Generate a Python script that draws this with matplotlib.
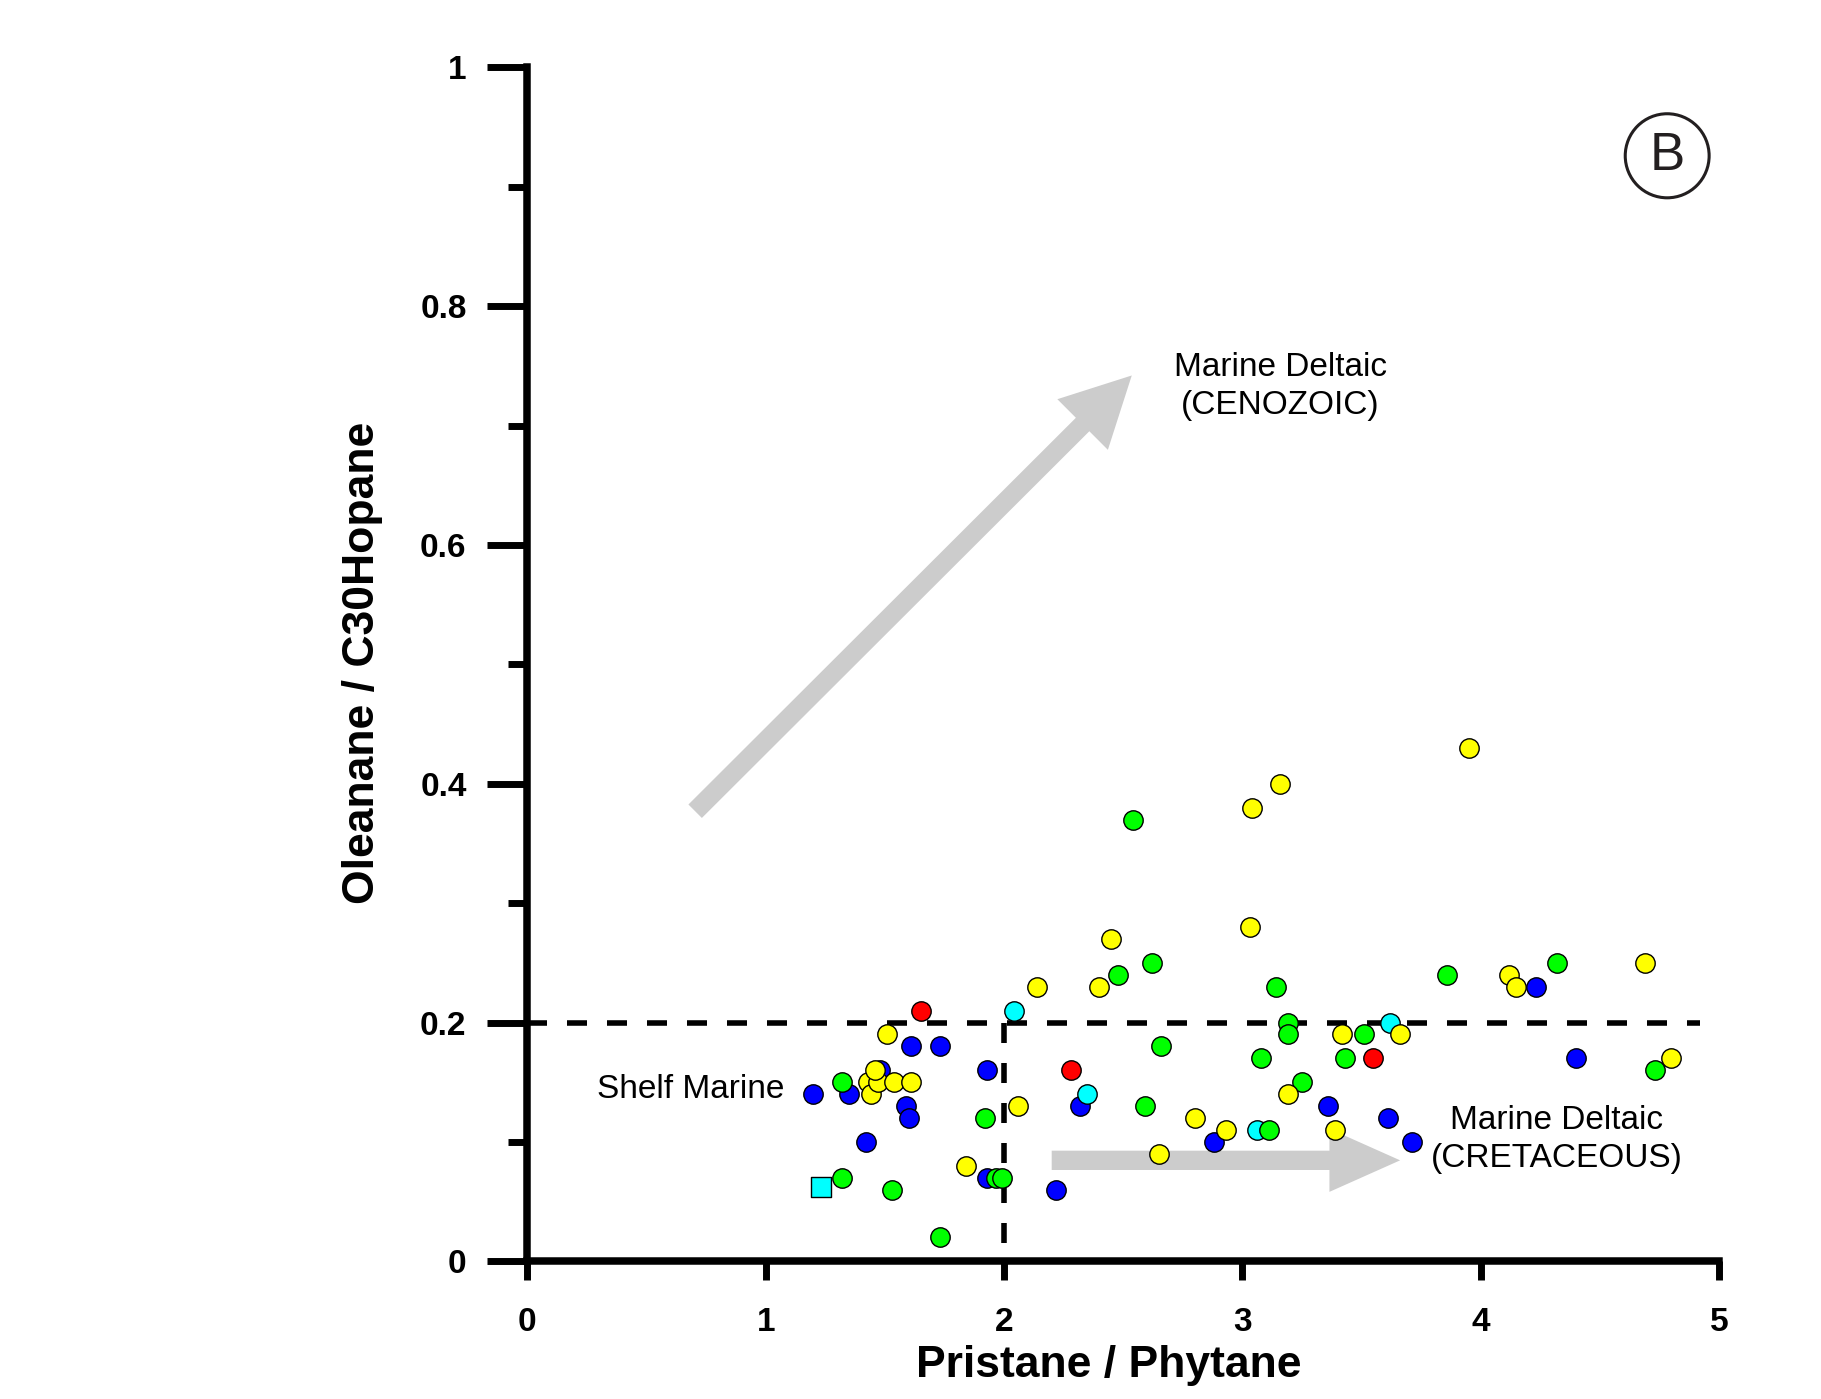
import matplotlib
matplotlib.use("Agg")
import matplotlib.pyplot as plt
from matplotlib.patches import Circle

plt.rcParams['font.family'] = ['Liberation Sans', 'DejaVu Sans']

# data (Pr/Ph vs Oleanane/C30 hopane)
blue_x = [1.20, 1.35, 1.48, 1.61, 1.73, 1.59, 1.60, 1.42, 1.93, 1.93, 2.22, 2.32,
          2.88, 3.36, 3.61, 3.71, 4.23, 4.40]
blue_y = [0.14, 0.14, 0.16, 0.18, 0.18, 0.13, 0.12, 0.10, 0.16, 0.07, 0.06, 0.13,
          0.10, 0.13, 0.12, 0.10, 0.23, 0.17]

cyan_x = [2.04, 2.35, 3.06, 3.62]
cyan_y = [0.21, 0.14, 0.11, 0.20]

cyan_sq_x = [1.23]
cyan_sq_y = [0.062]

green_x = [1.32, 1.32, 1.53, 1.73, 1.92, 1.965, 1.99, 2.48, 2.54, 2.62, 2.66, 2.59,
           3.11, 3.08, 3.14, 3.19, 3.19, 3.25, 3.43, 3.51, 3.86, 4.32, 4.73]
green_y = [0.15, 0.07, 0.06, 0.02, 0.12, 0.07, 0.07, 0.24, 0.37, 0.25, 0.18, 0.13,
           0.11, 0.17, 0.23, 0.20, 0.19, 0.15, 0.17, 0.19, 0.24, 0.25, 0.16]

yellow_x = [1.43, 1.44, 1.47, 1.46, 1.54, 1.61, 1.51, 1.84, 2.06, 2.14, 2.40, 2.45,
            2.65, 2.80, 2.93, 3.03, 3.04, 3.16, 3.19, 3.39, 3.42, 3.66, 3.95, 4.12,
            4.15, 4.69, 4.80]
yellow_y = [0.15, 0.14, 0.15, 0.16, 0.15, 0.15, 0.19, 0.08, 0.13, 0.23, 0.23, 0.27,
            0.09, 0.12, 0.11, 0.28, 0.38, 0.40, 0.14, 0.11, 0.19, 0.19, 0.43, 0.24,
            0.23, 0.25, 0.17]

red_x = [1.65, 2.28, 3.55]
red_y = [0.21, 0.16, 0.17]

xticks = [0, 1, 2, 3, 4, 5]
yticks = [0, 0.2, 0.4, 0.6, 0.8, 1.0]
ytick_labels = ['0', '0.2', '0.4', '0.6', '0.8', '1']
yminor = [0.1, 0.3, 0.5, 0.7, 0.9]

fig = plt.figure(figsize=(18.21, 13.99), dpi=100)
ax = fig.add_axes([0.2896, 0.0984, 0.6544, 0.8534])
ax.set_xlim(0, 5)
ax.set_ylim(0, 1)

for s in ['top', 'right']:
    ax.spines[s].set_visible(False)
for s in ['left', 'bottom']:
    ax.spines[s].set_linewidth(5.4)

ax.set_xticks(xticks)
ax.set_xticklabels([str(v) for v in xticks])
ax.set_yticks(yticks)
ax.set_yticklabels(ytick_labels)
ax.set_yticks(yminor, minor=True)
ax.tick_params(axis='y', which='major', direction='out', length=28.8, width=5, pad=15,
               labelsize=24)
ax.tick_params(axis='y', which='minor', direction='out', length=13.7, width=5)
ax.tick_params(axis='x', which='major', direction='out', length=13.7, width=5, pad=19,
               labelsize=24)
for lab in ax.get_xticklabels() + ax.get_yticklabels():
    lab.set_fontweight('bold')

# boundary lines
ax.plot([0, 4.92], [0.2, 0.2], color='black', lw=4, dashes=(3.6, 3.6), zorder=2)
ax.plot([2, 2], [0.2, 0], color='black', lw=4, dashes=(3.6, 3.6), zorder=2)

# grey trend arrows
ax.annotate('', xy=(2.536, 0.742), xytext=(0.704, 0.377),
            arrowprops=dict(arrowstyle='simple,head_length=50,head_width=51.5,tail_width=13.7',
                            mutation_scale=1, fc='#cccccc', ec='none', shrinkA=0, shrinkB=0),
            zorder=1)
ax.annotate('', xy=(3.662, 0.0846), xytext=(2.20, 0.0846),
            arrowprops=dict(arrowstyle='simple,head_length=50.9,head_width=45.4,tail_width=13.9',
                            mutation_scale=1, fc='#cccccc', ec='none', shrinkA=0, shrinkB=0),
            zorder=1)

sz = 195
kw = dict(s=sz, edgecolors='black', linewidths=1, zorder=3, clip_on=False)
ax.scatter(blue_x, blue_y, c='#0000ff', **kw)
ax.scatter(cyan_x, cyan_y, c='#00ffff', **kw)
ax.scatter(cyan_sq_x, cyan_sq_y, c='#00ffff', marker='s', **kw)
ax.scatter(green_x, green_y, c='#00ff00', **kw)
ax.scatter(yellow_x, yellow_y, c='#ffff00', **kw)
ax.scatter(red_x, red_y, c='#ff0000', **kw)

ax.text(3.16, 0.733, 'Marine Deltaic\n(CENOZOIC)', fontsize=24, ha='center', va='center',
        multialignment='center', linespacing=1.3)
ax.text(1.08, 0.144, 'Shelf Marine', fontsize=24, ha='right', va='center')
ax.text(4.32, 0.102, 'Marine Deltaic\n(CRETACEOUS)', fontsize=24, ha='center', va='center',
        multialignment='center', linespacing=1.3)

# panel label
ax.add_patch(Circle((0.9565, 0.926), 0.0352, transform=ax.transAxes, fill=False,
                    ec='#231f20', lw=2.2, clip_on=False))
ax.text(0.9565, 0.926, 'B', transform=ax.transAxes, fontsize=38, ha='center',
        va='center', color='#231f20')

fig.text(0.609, 0.0237, 'Pristane / Phytane', fontsize=32, fontweight='bold',
         ha='center', va='center')
fig.text(0.1988, 0.5264, 'Oleanane / C30Hopane', fontsize=32, fontweight='bold',
         ha='center', va='center', rotation=90)

fig.savefig('out.png', dpi=100)
